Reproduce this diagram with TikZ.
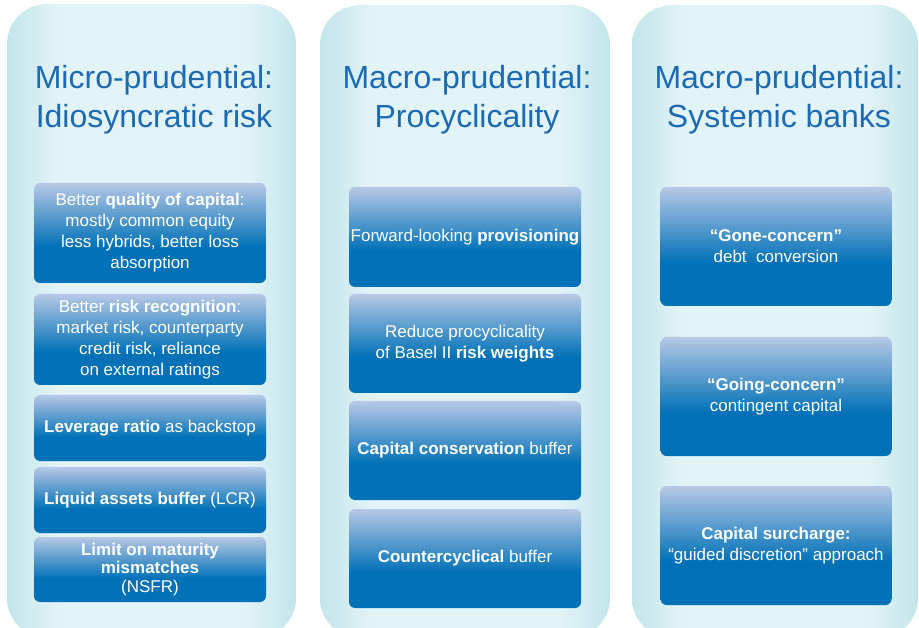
\documentclass[tikz,border=0pt]{standalone}
\usepackage{fontspec}
\setmainfont{Liberation Sans}
\definecolor{paneledge}{HTML}{C2E5E9}
\definecolor{panelmid}{HTML}{E3F4F8}
\definecolor{boxdark}{HTML}{0071B7}
\definecolor{boxlight}{HTML}{B7C8E6}
\definecolor{headblue}{HTML}{1C6AB4}
\pgfdeclareverticalshading{boxshade}{100bp}{color(0bp)=(boxdark); color(43bp)=(boxdark); color(75bp)=(boxlight); color(100bp)=(boxlight)}
\pgfdeclarehorizontalshading{panelshade}{100bp}{color(0bp)=(paneledge); color(25bp)=(paneledge); color(34bp)=(panelmid); color(66bp)=(panelmid); color(75bp)=(paneledge); color(100bp)=(paneledge)}
\begin{document}
\begin{tikzpicture}[x=1pt,y=-1pt,
    panel/.style={shade,shading=panelshade,rounded corners=40pt},
    cbox/.style={shade,shading=boxshade,rounded corners=6pt,minimum width=232pt,inner sep=1pt,
      align=center,text=white,font=\fontsize{17}{21}\selectfont},
    head/.style={align=center,text=headblue,font=\fontsize{32}{39}\selectfont}]
    \clip (0,0) rectangle (919,628);
    \shade[panel] (7,4) rectangle (296,638);
    \shade[panel] (320,5) rectangle (610,638);
    \shade[panel] (632,5) rectangle (918,638);
    \node[head] (micro) at (154,100) {Micro-prudential:\\Idiosyncratic risk};
    \node[head] (procyc) at (467,100) {Macro-prudential:\\Procyclicality};
    \node[head] (systemic) at (779,100) {Macro-prudential:\\Systemic banks};
    \node[cbox,minimum height=100pt] (quality) at (150,233) {Better \textbf{quality of capital}:\\mostly common equity\\less hybrids, better loss\\absorption};
    \node[cbox,minimum height=91pt] (recog) at (150,339.5) {Better \textbf{risk recognition}:\\market risk, counterparty\\credit risk, reliance\\on external ratings};
    \node[cbox,minimum height=66pt] (leverage) at (150,428) {\textbf{Leverage ratio} as backstop};
    \node[cbox,minimum height=66pt] (liquid) at (150,500) {\textbf{Liquid assets buffer} (LCR)};
    \node[cbox,minimum height=65pt,font=\fontsize{17}{18.5}\selectfont] (nsfr) at (150,569.5) {\textbf{Limit on maturity}\\\textbf{mismatches}\\(NSFR)};
    \node[cbox,minimum height=100pt] (provis) at (465,237) {Forward-looking \textbf{provisioning}};
    \node[cbox,minimum height=99pt] (weights) at (465,343.5) {Reduce procyclicality\\of Basel II \textbf{risk weights}};
    \node[cbox,minimum height=99pt] (conserv) at (465,450.5) {\textbf{Capital conservation} buffer};
    \node[cbox,minimum height=99pt] (counter) at (465,558.5) {\textbf{Countercyclical} buffer};
    \node[cbox,minimum height=119pt,minimum width=231pt] (gone) at (776,246.5) {\textbf{“Gone-concern”}\\debt~~conversion};
    \node[cbox,minimum height=119pt,minimum width=231pt] (going) at (776,396.5) {\textbf{“Going-concern”}\\contingent capital};
    \node[cbox,minimum height=119pt,minimum width=231pt] (surcharge) at (776,545.5) {\textbf{Capital surcharge:}\\“guided discretion” approach};
\end{tikzpicture}
\end{document}
